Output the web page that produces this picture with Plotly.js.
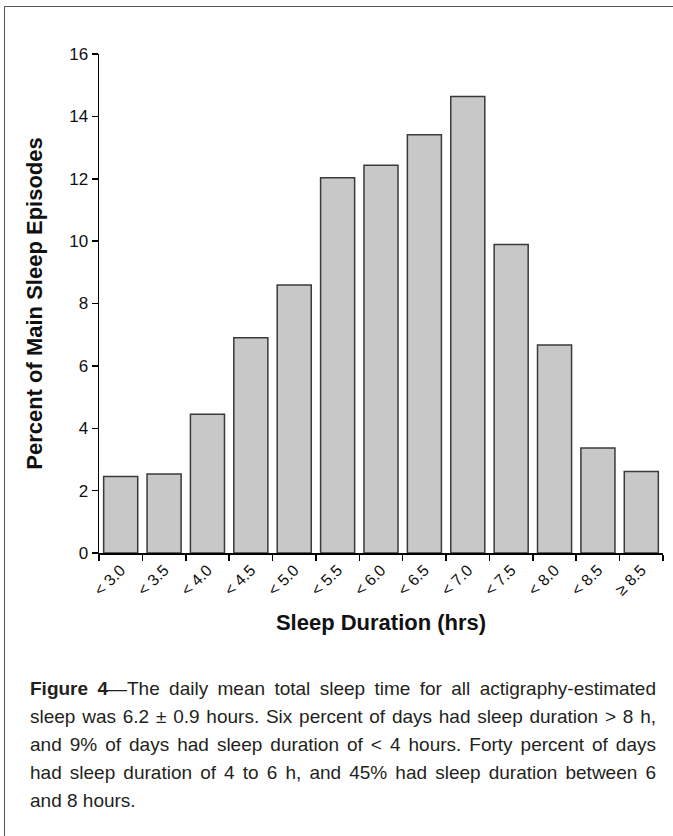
<!DOCTYPE html>
<html>
<head>
<meta charset="utf-8">
<script src="https://cdn.plot.ly/plotly-3.0.1.min.js"></script>
<style>
  html, body { margin: 0; padding: 0; background: #fff; }
  #wrap { position: relative; width: 673px; height: 836px; overflow: hidden; }
  #frame { position: absolute; left: 4px; top: 6px; width: 700px; height: 900px;
           border-left: 1.5px solid #555; border-top: 1.5px solid #555; }
  #chart { position: absolute; left: 0; top: 0; width: 673px; height: 836px; }
  #caption { position: absolute; left: 30px; top: 675px; width: 626px;
             font-family: 'Liberation Sans', Arial, sans-serif;
             font-size: 19px; line-height: 28px; color: #231f20; }
  #caption span { display: block; text-align: justify; text-align-last: justify; white-space: nowrap; }
  #caption span.last { text-align-last: left; }
</style>
</head>
<body>
<div id="wrap">
  <div id="frame"></div>
  <div id="chart"></div>
  <div id="caption">
    <span><b>Figure 4</b>—The daily mean total sleep time for all actigraphy-estimated</span>
    <span>sleep was 6.2 ± 0.9 hours. Six percent of days had sleep duration &gt; 8 h,</span>
    <span>and 9% of days had sleep duration of &lt; 4 hours. Forty percent of days</span>
    <span>had sleep duration of 4 to 6 h, and 45% had sleep duration between 6</span>
    <span class="last">and 8 hours.</span>
  </div>
</div>
<script>
// Sleep duration bins and share of main sleep episodes (%)
const durationBins = ['< 3.0', '< 3.5', '< 4.0', '< 4.5', '< 5.0', '< 5.5', '< 6.0',
                      '< 6.5', '< 7.0', '< 7.5', '< 8.0', '< 8.5', '≥ 8.5'];
const percentEpisodes = [2.45, 2.53, 4.45, 6.90, 8.59, 12.03, 12.43,
                         13.41, 14.64, 9.89, 6.67, 3.37, 2.61];
const yTicks = [0, 2, 4, 6, 8, 10, 12, 14, 16];

const sans = "'Liberation Sans', Arial, sans-serif";

const trace = {
  type: 'bar',
  x: durationBins,
  y: percentEpisodes,
  marker: { color: '#c8c8c8', line: { color: '#3a3a3a', width: 1.5 } },
  hoverinfo: 'x+y'
};

const layout = {
  width: 673,
  height: 836,
  margin: { l: 99, r: 10, t: 54, b: 283 },
  paper_bgcolor: 'rgba(0,0,0,0)',
  plot_bgcolor: 'rgba(0,0,0,0)',
  bargap: 0.215,
  showlegend: false,
  font: { family: sans, color: '#111' },
  xaxis: {
    type: 'category',
    tickson: 'boundaries',
    ticks: 'outside', ticklen: 6, tickwidth: 1.5, tickcolor: '#000',
    showline: true, linecolor: '#000', linewidth: 1.5,
    showgrid: false, zeroline: false,
    tickangle: -45,
    tickfont: { family: sans, size: 16, color: '#111' },
    title: { text: '<b>Sleep Duration (hrs)</b>', font: { family: sans, size: 22, color: '#111' }, standoff: 16 }
  },
  yaxis: {
    range: [0, 16],
    tickvals: yTicks,
    ticks: 'outside', ticklen: 6, tickwidth: 1.5, tickcolor: '#000',
    showline: true, linecolor: '#000', linewidth: 1.5,
    showgrid: false, zeroline: false,
    tickfont: { family: sans, size: 17, color: '#111' },
    title: { text: '<b>Percent of Main Sleep Episodes</b>', font: { family: sans, size: 22, color: '#111' }, standoff: 20 }
  }
};

Plotly.newPlot('chart', [trace], layout, { displayModeBar: false, staticPlot: true });
</script>
</body>
</html>
